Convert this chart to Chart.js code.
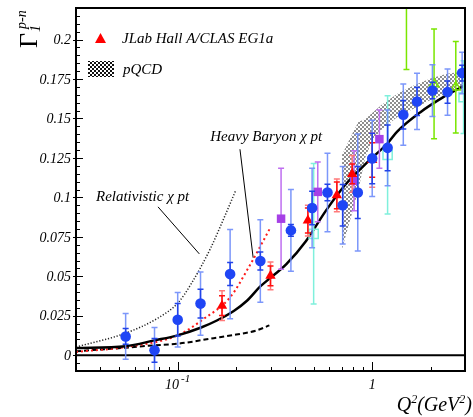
<!DOCTYPE html>
<html><head><meta charset="utf-8">
<script src="https://cdn.jsdelivr.net/npm/chart.js@4.4.1/dist/chart.umd.min.js"></script>
<style>html,body{margin:0;padding:0;background:#fff;}#wrap{width:473px;height:417px;position:relative;}</style>
</head><body><div id="wrap"><canvas id="c"></canvas></div>
<script>
// ---------- data ----------
// JLab CLAS EG1b (blue circles)
const blueQ    = [0.054, 0.076, 0.100, 0.131, 0.186, 0.266, 0.382, 0.491, 0.589, 0.705, 0.843, 1.00, 1.20, 1.445, 1.70, 2.04, 2.44, 2.90];
const blueG    = [0.0119, 0.0031, 0.0225, 0.0327, 0.0514, 0.0597, 0.0791, 0.0933, 0.1031, 0.0950, 0.1031, 0.1247, 0.1314, 0.1524, 0.1608, 0.1677, 0.1667, 0.1788];
const blueStat = [0.0050, 0.0075, 0.0103, 0.0091, 0.0073, 0.0057, 0.0038, 0.0106, 0.0053, 0.0132, 0.0164, 0.0160, 0.0145, 0.0090, 0.0089, 0.0052, 0.0071, 0.0050];
const blueTot  = [0.0145, 0.0145, 0.0173, 0.0200, 0.0283, 0.0262, 0.0259, 0.0252, 0.0248, 0.0245, 0.0370, 0.0242, 0.0240, 0.0194, 0.0178, 0.0164, 0.0147, 0.0132];
// JLab Hall A / CLAS EG1a (red triangles)
const redQ    = [0.169, 0.300, 0.467, 0.658, 0.789, 1.00];
const redG    = [0.0314, 0.0503, 0.0853, 0.1013, 0.1149, 0.1237];
const redStat = [0.0063, 0.0063, 0.0079, 0.0085, 0.0063, 0.0110];
const redTot  = [0.0094, 0.0088, 0.0097, 0.0104, 0.0116, 0.0173];
// purple squares
const purpleQ   = [0.340, 0.525, 0.807, 1.089];
const purpleG   = [0.0865, 0.1035, 0.1105, 0.1369];
const purpleErr = [0.0320, 0.0190, 0.0190, 0.0185];
// cyan open squares
const cyanQ   = [0.500, 1.20, 2.95];
const cyanG   = [0.0769, 0.1269, 0.1635];
const cyanErr = [0.0445, 0.0375, 0.0230];
// green open triangles
const greenQ   = [1.50, 2.08, 2.69];
const greenG   = [0.250, 0.1719, 0.1698];
const greenErr = [0.069, 0.0348, 0.0290];

// model curves
const solidQ = [0.03, 0.054, 0.076, 0.1, 0.131, 0.159, 0.195, 0.227, 0.265, 0.287, 0.362, 0.457, 0.576, 0.727, 0.954, 1.2, 1.34, 1.77, 2.32, 3.0];
const solidG = [0.0046, 0.0057, 0.0094, 0.0126, 0.0174, 0.022, 0.0282, 0.0345, 0.0434, 0.0471, 0.0577, 0.0724, 0.0913, 0.108, 0.1228, 0.1343, 0.1415, 0.154, 0.1635, 0.171];
const dashedQ = [0.03, 0.054, 0.076, 0.1, 0.153, 0.2, 0.254, 0.296];
const dashedG = [0.0025, 0.0048, 0.0063, 0.0073, 0.0108, 0.0131, 0.0157, 0.0189];
const relQ = [0.03, 0.054, 0.079, 0.1, 0.117, 0.148, 0.173, 0.198];
const relG = [0.0052, 0.014, 0.0235, 0.033, 0.045, 0.0681, 0.087, 0.1039];
const hbQ = [0.03, 0.054, 0.1, 0.136, 0.186, 0.235, 0.300];
const hbG = [0.0021, 0.0052, 0.0126, 0.023, 0.0367, 0.057, 0.081];
// pQCD band
const bandQ  = [0.70, 0.80, 0.85, 0.92, 1.0, 1.115, 1.353, 1.643, 1.995, 2.42, 3.0];
const bandHi = [0.127, 0.1417, 0.148, 0.1495, 0.1535, 0.1585, 0.1658, 0.1711, 0.1753, 0.1784, 0.1800];
const bandLo = [0.0673, 0.093, 0.105, 0.125, 0.136, 0.1428, 0.1511, 0.1564, 0.1617, 0.1658, 0.169];
// zero line and annotation pointers
const zeroQ = [0.03, 3.0], zeroG = [0, 0];
const relPtrQ = [0.0792, 0.1292], relPtrG = [0.094, 0.0642];
const hbPtrQ  = [0.209, 0.2443],  hbPtrG  = [0.1305, 0.0618];

// axes / ticks
const xMin = 0.03, xMax = 3.0, yMin = -0.01, yMax = 0.22;
const xMajorTicks = [0.1, 1];
const xMinorTicks = [0.04, 0.05, 0.06, 0.07, 0.08, 0.09, 0.2, 0.3, 0.4, 0.5, 0.6, 0.7, 0.8, 0.9, 2];
const xTickBase = ['10', '1'];
const xTickExp  = ['-1', ''];
const yTickValues = [0, 0.025, 0.05, 0.075, 0.1, 0.125, 0.15, 0.175, 0.2];
const yTickLabels = ['0', '0.025', '0.05', '0.075', '0.1', '0.125', '0.15', '0.175', '0.2'];
const yMinorStep = 0.005;

// texts
const legendLabels = ['JLab Hall A/CLAS EG1a', 'pQCD'];
const relLabel = 'Relativistic \u03c7 pt', relLabelQ = 0.038, relLabelG = 0.0975;
const hbLabel = 'Heavy Baryon \u03c7 pt', hbLabelQ = 0.147, hbLabelG = 0.1355;

// ---------- helpers ----------
const SERIF = '"Liberation Serif", "Times New Roman", serif';
const pts = (xs, ys) => xs.map((x, i) => ({x: x, y: ys[i]}));

const canvas = document.getElementById('c');
const ctx0 = canvas.getContext('2d');
function checker(color, cell) {
  const t = document.createElement('canvas');
  t.width = t.height = cell * 2;
  const g = t.getContext('2d');
  g.fillStyle = '#ffffff'; g.fillRect(0, 0, cell * 2, cell * 2);
  g.fillStyle = color;
  g.fillRect(0, 0, cell, cell); g.fillRect(cell, cell, cell, cell);
  return ctx0.createPattern(t, 'repeat');
}
const bandPattern = checker('#8e8e8e', 2);
const legendPattern = checker('#111111', 2);

const errorBarPlugin = {
  id: 'errbars',
  beforeDatasetDraw(chart, args) {
    const ds = chart.data.datasets[args.index];
    if (!ds.errLayers) return;
    const ctx = chart.ctx, a = chart.chartArea, xs = chart.scales.x, ys = chart.scales.y;
    ctx.save();
    ctx.beginPath(); ctx.rect(a.left, a.top, a.right - a.left, a.bottom - a.top); ctx.clip();
    ds.errLayers.forEach(layer => {
      ctx.strokeStyle = layer.color; ctx.lineWidth = 1.5;
      ds.data.forEach((p, i) => {
        const e = layer.err[i];
        const px = xs.getPixelForValue(p.x);
        const y1 = ys.getPixelForValue(p.y + e), y2 = ys.getPixelForValue(p.y - e);
        ctx.beginPath();
        ctx.moveTo(px, y1); ctx.lineTo(px, y2);
        ctx.moveTo(px - 3, y1); ctx.lineTo(px + 3, y1);
        ctx.moveTo(px - 3, y2); ctx.lineTo(px + 3, y2);
        ctx.stroke();
      });
    });
    ctx.restore();
  }
};

function seg(ctx, x1, y1, x2, y2) { ctx.beginPath(); ctx.moveTo(x1, y1); ctx.lineTo(x2, y2); ctx.stroke(); }

const decorPlugin = {
  id: 'decor',
  afterDraw(chart) {
    const ctx = chart.ctx, a = chart.chartArea, xs = chart.scales.x, ys = chart.scales.y;
    ctx.save();
    ctx.strokeStyle = '#000'; ctx.fillStyle = '#000'; ctx.lineWidth = 1;
    // bottom ticks
    xMinorTicks.forEach(v => { const px = Math.round(xs.getPixelForValue(v)) + 0.5; seg(ctx, px, a.bottom, px, a.bottom - 4); });
    xMajorTicks.forEach(v => { const px = Math.round(xs.getPixelForValue(v)) + 0.5; seg(ctx, px, a.bottom, px, a.bottom - 9); });
    // left ticks
    for (let v = yMin; v <= yMax + 1e-9; v += yMinorStep) {
      const k = Math.round(v / yMinorStep);
      const py = Math.round(ys.getPixelForValue(k * yMinorStep)) + 0.5;
      if (k % 5 === 0) seg(ctx, a.left - 3, py, a.left + 7, py);
      else seg(ctx, a.left, py, a.left + 4, py);
    }
    // frame
    ctx.lineWidth = 2;
    ctx.strokeRect(a.left, a.top, a.right - a.left, a.bottom - a.top);

    // y tick labels
    ctx.font = 'italic 14px ' + SERIF;
    ctx.textAlign = 'right'; ctx.textBaseline = 'middle';
    yTickValues.forEach((v, i) => ctx.fillText(yTickLabels[i], a.left - 5, ys.getPixelForValue(v) + 1));
    // x tick labels
    ctx.textBaseline = 'alphabetic'; ctx.textAlign = 'left';
    xMajorTicks.forEach((v, i) => {
      const px = xs.getPixelForValue(v);
      ctx.font = 'italic 14px ' + SERIF;
      const wb = ctx.measureText(xTickBase[i]).width;
      ctx.font = 'italic 11px ' + SERIF;
      const we = xTickExp[i] ? ctx.measureText(xTickExp[i]).width + 2 : 0;
      const x0 = px - (wb + we) / 2;
      ctx.font = 'italic 14px ' + SERIF;
      ctx.fillText(xTickBase[i], x0, 389);
      if (xTickExp[i]) { ctx.font = 'italic 11px ' + SERIF; ctx.fillText(xTickExp[i], x0 + wb + 2, 382); }
    });
    // x title  Q^2(GeV^2)
    const big = 'italic 20px ' + SERIF, small = 'italic 12px ' + SERIF;
    const parts = [['Q', big, 0], ['2', small, -8], ['(GeV', big, 0], ['2', small, -8], [')', big, 0]];
    let tw = 0;
    parts.forEach(p => { ctx.font = p[1]; tw += ctx.measureText(p[0]).width; });
    let cx = 472 - tw;
    parts.forEach(p => { ctx.font = p[1]; ctx.fillText(p[0], cx, 411 + p[2]); cx += ctx.measureText(p[0]).width; });
    // y title Gamma_1^{p-n}
    ctx.save();
    ctx.translate(37, 48); ctx.rotate(-Math.PI / 2);
    ctx.font = '26px ' + SERIF; ctx.fillText('\u0393', 0, 0);
    ctx.font = 'italic 14px ' + SERIF; ctx.fillText('1', 16, 3);
    ctx.font = 'italic 14px ' + SERIF; ctx.fillText('p-n', 19, -11);
    ctx.restore();

    // annotation labels
    ctx.font = 'italic 15px ' + SERIF;
    ctx.fillText(relLabel, xs.getPixelForValue(relLabelQ), ys.getPixelForValue(relLabelG));
    ctx.fillText(hbLabel, xs.getPixelForValue(hbLabelQ), ys.getPixelForValue(hbLabelG));

    // legend
    ctx.fillStyle = '#ff0000';
    ctx.beginPath(); ctx.moveTo(100.5, 33); ctx.lineTo(106, 43); ctx.lineTo(95, 43); ctx.closePath(); ctx.fill();
    ctx.fillStyle = legendPattern; ctx.fillRect(88, 61, 26, 16);
    ctx.fillStyle = '#000';
    ctx.font = 'italic 15px ' + SERIF;
    ctx.fillText(legendLabels[0], 122, 43);
    ctx.fillText(legendLabels[1], 123, 74);
    ctx.restore();
  }
};

const lineDs = (xs, ys, color, width, dash, extra) => Object.assign({
  type: 'scatter', data: pts(xs, ys), showLine: true, pointRadius: 0, borderColor: color,
  borderWidth: width, borderDash: dash, fill: false, cubicInterpolationMode: 'monotone', clip: 0
}, extra || {});

const datasets = [
  { data: pts(blueQ, blueG), pointStyle: 'circle', pointRadius: 5.3, backgroundColor: '#1f45f5', borderColor: '#1f45f5', borderWidth: 0, clip: 0,
    errLayers: [{err: blueTot, color: 'rgba(110,140,250,0.9)'}, {err: blueStat, color: '#2243e8'}] },
  { data: pts(redQ, redG), pointStyle: 'triangle', pointRadius: 6, backgroundColor: '#ff0000', borderColor: '#ff0000', borderWidth: 0, clip: 0,
    errLayers: [{err: redTot, color: '#ff7a7a'}, {err: redStat, color: '#ff1010'}] },
  { data: pts(purpleQ, purpleG), pointStyle: 'rect', pointRadius: 6, backgroundColor: '#a640e6', borderColor: '#a640e6', borderWidth: 0, clip: 0,
    errLayers: [{err: purpleErr, color: '#bf6ff0'}] },
  { data: pts(cyanQ, cyanG), pointStyle: 'rect', pointRadius: 6.5, backgroundColor: 'rgba(0,0,0,0)', borderColor: '#7ff0dc', borderWidth: 1.5, clip: 0,
    errLayers: [{err: cyanErr, color: '#7ff0dc'}] },
  { data: pts(greenQ, greenG), pointStyle: 'triangle', pointRadius: 5.5, backgroundColor: 'rgba(0,0,0,0)', borderColor: '#7ae600', borderWidth: 1.5, clip: 0,
    errLayers: [{err: greenErr, color: '#7ae600'}] },
  lineDs(solidQ, solidG, '#000', 2.5, []),
  lineDs(hbQ, hbG, '#ff1a1a', 2, [2, 3]),
  lineDs(dashedQ, dashedG, '#000', 2, [5, 3]),
  lineDs(relQ, relG, '#222', 1.5, [1.2, 1.8]),
  lineDs(relPtrQ, relPtrG, '#000', 1, [], {cubicInterpolationMode: 'default', tension: 0}),
  lineDs(hbPtrQ, hbPtrG, '#000', 1, [], {cubicInterpolationMode: 'default', tension: 0}),
  lineDs(zeroQ, zeroG, '#000', 2, [], {cubicInterpolationMode: 'default', tension: 0}),
  lineDs(bandQ, bandHi, 'rgba(0,0,0,0)', 0, [], {fill: '+1', backgroundColor: bandPattern, cubicInterpolationMode: 'default', tension: 0}),
  lineDs(bandQ, bandLo, 'rgba(0,0,0,0)', 0, [], {cubicInterpolationMode: 'default', tension: 0})
];

new Chart(canvas, {
  type: 'scatter',
  data: { datasets: datasets },
  options: {
    animation: false, responsive: true, maintainAspectRatio: false,
    layout: { padding: { left: 0, right: 1, top: 6, bottom: 0 } },
    plugins: { legend: { display: false }, tooltip: { enabled: false } },
    scales: {
      x: { type: 'logarithmic', min: xMin, max: xMax, ticks: { display: false }, grid: { display: false }, border: { display: false },
           afterFit: s => { s.height = 46; } },
      y: { type: 'linear', min: yMin, max: yMax, ticks: { display: false }, grid: { display: false }, border: { display: false },
           afterFit: s => { s.width = 76; } }
    }
  },
  plugins: [errorBarPlugin, decorPlugin]
});
</script></body></html>
